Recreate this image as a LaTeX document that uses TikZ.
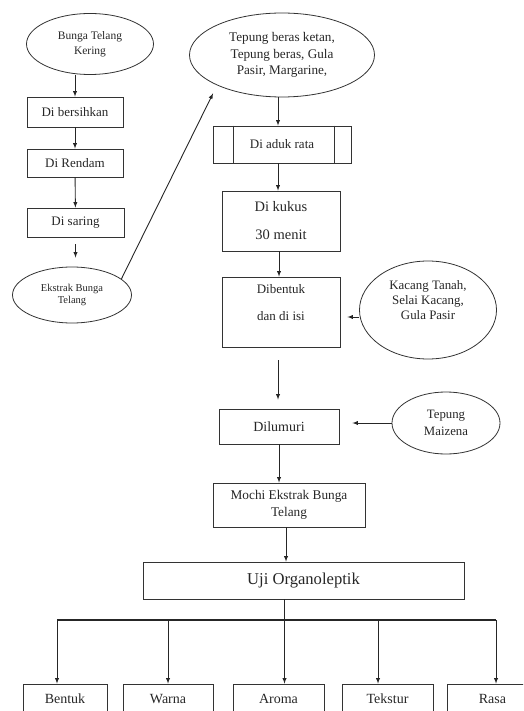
\documentclass[tikz,border=0pt]{standalone}
\usepackage{fontspec}
\setmainfont{Liberation Serif}
\usetikzlibrary{arrows,shapes.geometric}

\begin{document}
\begin{tikzpicture}[x=1pt,y=-1pt,
  box/.style={draw=black!80,line width=0.8pt,rectangle,inner sep=0pt,align=center,text=black!85,font=\fontsize{13}{16}\selectfont},
  oval/.style={draw=black!80,line width=0.8pt,ellipse,inner sep=0pt,align=center,text=black!85,font=\fontsize{13}{16}\selectfont},
  arr/.style={draw=black!85,line width=0.9pt,-latex}]
\useasboundingbox (0,0) rectangle (523,711);
\clip (0,0) rectangle (523,711);
%
% left column
\node[oval,minimum width=127pt,minimum height=61pt,font=\fontsize{11.5}{15}\selectfont] (kering) at (90,44) {Bunga Telang\\Kering};
\node[box,minimum width=96pt,minimum height=30pt] (bersih) at (75,112) {Di bersihkan};
\node[box,minimum width=96pt,minimum height=28pt] (rendam) at (75,163) {Di Rendam};
\node[box,minimum width=97pt,minimum height=29pt] (saring) at (75.5,222.5) {Di saring};
\node[oval,minimum width=119pt,minimum height=56pt,font=\fontsize{10.5}{12.5}\selectfont] (ekstrak) at (72,295) {Ekstrak Bunga\\Telang};
%
% middle column
\node[oval,minimum width=185pt,minimum height=84pt,font=\fontsize{13.2}{16.5}\selectfont] (bahan) at (282,55) {Tepung beras ketan,\\Tepung beras, Gula\\Pasir, Margarine,};
\node[box,minimum width=138pt,minimum height=37pt] (aduk) at (282,144.5) {Di aduk rata};
\draw[black!80,line width=0.8pt] ([xshift=21pt]aduk.north west) -- ([xshift=21pt]aduk.south west);
\draw[black!80,line width=0.8pt] ([xshift=-17pt]aduk.north east) -- ([xshift=-17pt]aduk.south east);
\node[box,minimum width=118pt,minimum height=60pt,font=\fontsize{14.5}{28}\selectfont] (kukus) at (281,221) {Di kukus\\30 menit};
\node[box,minimum width=118pt,minimum height=70pt,font=\fontsize{13}{27}\selectfont,text depth=20pt] (bentuk) at (281,312) {Dibentuk\\dan di isi};
\node[oval,minimum width=137pt,minimum height=98pt,font=\fontsize{12.9}{15}\selectfont,text depth=19pt] (kacang) at (428,310) {Kacang Tanah,\\Selai Kacang,\\Gula Pasir};
\node[box,minimum width=120pt,minimum height=35pt,font=\fontsize{14}{16}\selectfont] (lumur) at (279,426.5) {Dilumuri};
\node[oval,minimum width=108pt,minimum height=62pt,font=\fontsize{12.8}{17}\selectfont] (maizena) at (446,423) {Tepung\\Maizena};
\node[box,minimum width=152pt,minimum height=44pt,font=\fontsize{13.3}{17}\selectfont] (mochi) at (289,505) {Mochi Ekstrak Bunga\\Telang};
\node[box,minimum width=321pt,minimum height=37pt,font=\fontsize{16.6}{19}\selectfont] (uji) at (303.5,580.5) {Uji Organoleptik};
%
% bottom row
\node[box,minimum width=84pt,minimum height=30pt,font=\fontsize{14}{16}\selectfont] (bentukuji) at (65,699) {Bentuk};
\node[box,minimum width=90pt,minimum height=30pt,font=\fontsize{14}{16}\selectfont] (warna) at (168,699) {Warna};
\node[box,minimum width=91pt,minimum height=30pt,font=\fontsize{14}{16}\selectfont] (aroma) at (278.5,699) {Aroma};
\node[box,minimum width=91pt,minimum height=30pt,font=\fontsize{14}{16}\selectfont] (tekstur) at (387.5,699) {Tekstur};
\node[box,minimum width=91pt,minimum height=30pt,font=\fontsize{14}{16}\selectfont] (rasa) at (492.5,699) {Rasa};
\coordinate (bus) at (285,620);
%
% connectors
\draw[arr] (bersih.north |- kering.south) -- (bersih.north);
\draw[arr] (bersih) -- (rendam);
\draw[arr] (rendam) -- (saring);
\draw[arr,shorten <=7pt,shorten >=9pt] (saring.south) -- (saring.south |- ekstrak.north);
\draw[arr,shorten >=9pt] (ekstrak.18) -- (bahan.205);
\draw[arr] ([xshift=-4pt]bahan.south) -- ([xshift=-4pt]aduk.north);
\draw[arr] ([xshift=-3pt]kukus.north |- aduk.south) -- ([xshift=-3pt]kukus.north);
\draw[arr] ([xshift=-2pt]kukus.south) -- ([xshift=-2pt]bentuk.north);
\draw[arr,shorten >=7pt] ([yshift=-7pt]kacang.west) -- ([yshift=-7pt]kacang.west -| bentuk.east);
\draw[arr,shorten <=13pt,shorten >=9pt] ([xshift=-3pt]bentuk.south) -- ([xshift=-3pt]bentuk.south |- lumur.north);
\draw[arr,shorten >=13pt] (maizena.west) -- (maizena.west -| lumur.east);
\draw[arr] (lumur.south) -- (lumur.south |- mochi.north);
\draw[arr] ([xshift=-3pt]mochi.south) -- ([xshift=-3pt]mochi.south |- uji.north);
%
\draw[black!85,line width=1.4pt] ([xshift=-8pt]bentukuji.north |- bus) -- ([xshift=3.5pt]rasa.north |- bus);
\draw[arr] ([xshift=6pt]aroma.north |- uji.south) -- ([xshift=6pt]aroma.north);
\draw[arr] ([xshift=-8pt]bentukuji.north |- bus) -- ([xshift=-8pt]bentukuji.north);
\draw[arr] (warna.north |- bus) -- (warna.north);
\draw[arr] ([xshift=-9.5pt]tekstur.north |- bus) -- ([xshift=-9.5pt]tekstur.north);
\draw[arr] ([xshift=3.5pt]rasa.north |- bus) -- ([xshift=3.5pt]rasa.north);
\end{tikzpicture}
\end{document}
